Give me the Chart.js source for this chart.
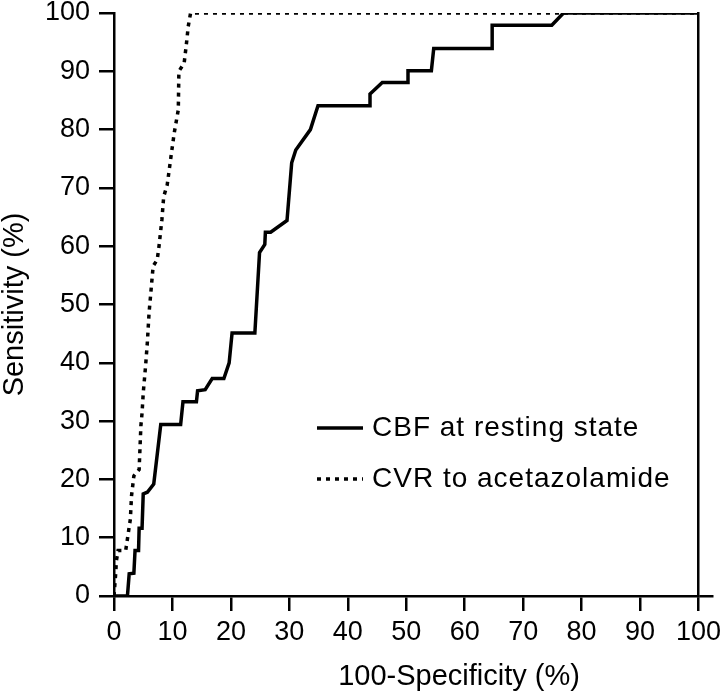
<!DOCTYPE html>
<html>
<head>
<meta charset="utf-8">
<script src="https://cdn.jsdelivr.net/npm/chart.js@4.4.0/dist/chart.umd.min.js"></script>
<style>
  html, body { margin: 0; padding: 0; background: #fff; }
  #chart { display: block; }
</style>
</head>
<body>
<canvas id="chart" width="722" height="696"></canvas>
<script>
// ROC curves (x = 100-specificity, y = sensitivity, both in %)
const seriesNames = ["CBF at resting state", "CVR to acetazolamide"];

const cbfFpr = [0, 2.3, 2.6, 3.4, 3.6, 4.2, 4.3, 4.8, 5.0, 5.7, 6.8, 8.0, 11.4, 11.8, 14.1, 14.3, 15.6, 16.8,
  18.8, 19.7, 20.2, 24.1, 24.9, 25.8, 25.9, 26.8, 29.6, 30.4, 31.1, 33.6, 34.9, 43.8, 43.8, 45.9, 50.3, 50.3,
  54.3, 54.7, 64.7, 64.7, 74.9, 76.9, 100];
const cbfSens = [0, 0, 3.8, 3.9, 7.8, 7.8, 11.6, 11.6, 17.5, 17.8, 19.2, 29.4, 29.4, 33.3, 33.3, 35.2, 35.4, 37.3,
  37.3, 40.0, 45.1, 45.1, 58.9, 60.3, 62.4, 62.4, 64.4, 74.3, 76.5, 80.0, 84.1, 84.1, 86.1, 88.1, 88.1, 90.1,
  90.1, 93.9, 93.9, 97.9, 97.9, 100, 100];

const cvrFpr = [0, 0.3, 0.4, 0.7, 2.0, 2.3, 2.8, 3.0, 3.4, 4.3, 4.6, 4.8, 5.0, 5.4, 5.7, 6.0, 6.3, 6.7, 7.4,
  7.7, 8.2, 8.5, 9.1, 9.9, 10.3, 11.0, 11.1, 12.0, 12.4, 12.7, 13.1, 100];
const cvrSens = [0, 4.0, 6.0, 7.8, 7.8, 9.8, 13.2, 17.2, 20.6, 21.7, 29.2, 31.4, 34.8, 39.4, 43.4, 48.6, 52.0, 56.6, 57.7,
  60.0, 64.6, 68.5, 70.5, 76.5, 79.4, 83.4, 90.0, 91.4, 94.8, 97.7, 100, 100];

const axisMin = 0;
const axisMax = 100;
const axisStep = 10;
const xTitle = "100-Specificity (%)";
const yTitle = "Sensitivity (%)";

const FONT = "'Liberation Sans', Arial, Helvetica, sans-serif";
const toPoints = (xs, ys) => xs.map((x, i) => ({ x, y: ys[i] }));

// legend sits inside the plot, lower right; x title is off-centre in the original
const insideLegend = {
  id: "insideLegend",
  afterDraw(chart, args, opts) {
    const { ctx } = chart;
    ctx.save();
    ctx.fillStyle = "#000";
    ctx.textBaseline = "middle";
    ctx.font = `28px ${FONT}`;
    ctx.letterSpacing = "1px";
    chart.data.datasets.forEach((ds, i) => {
      const y = opts.top + i * opts.rowGap;
      ctx.strokeStyle = ds.borderColor;
      ctx.lineWidth = ds.borderWidth;
      ctx.lineCap = "butt";
      ctx.setLineDash(ds.borderDash || []);
      ctx.beginPath();
      ctx.moveTo(opts.left, y);
      ctx.lineTo(opts.left + opts.sample, y);
      ctx.stroke();
      ctx.setLineDash([]);
      ctx.fillText(ds.label, opts.left + opts.sample + opts.gap, y);
    });
    ctx.letterSpacing = "0px";
    ctx.font = `29px ${FONT}`;
    ctx.textAlign = "center";
    ctx.fillText(xTitle, opts.titleX, opts.titleY);
    ctx.restore();
  }
};

const axisLine = { color: "#000", lineWidth: 2.5, drawOnChartArea: false, drawTicks: true, tickLength: 15 };
const axisBorder = { display: true, color: "#000", width: 2.5 };

// pin the plot box to where it sits in the figure
const noOverflow = (s) => { s.paddingTop = 0; s.paddingBottom = 0; s.paddingLeft = 0; s.paddingRight = 0; };

new Chart(document.getElementById("chart"), {
  type: "line",
  data: {
    datasets: [
      {
        label: seriesNames[0],
        data: toPoints(cbfFpr, cbfSens),
        borderColor: "#000",
        borderWidth: 3.5,
        pointRadius: 0,
        tension: 0,
        borderJoinStyle: "miter",
      },
      {
        label: seriesNames[1],
        data: toPoints(cvrFpr, cvrSens),
        borderColor: "#000",
        borderWidth: 3.5,
        borderDash: [4, 5],
        borderCapStyle: "butt",
        pointRadius: 0,
        tension: 0,
      },
    ],
  },
  options: {
    responsive: false,
    animation: false,
    devicePixelRatio: 1,
    layout: { padding: { top: 13, right: 0, bottom: 0, left: 0 } },
    plugins: {
      legend: { display: false },
      tooltip: { enabled: false },
      insideLegend: { left: 317, sample: 46, gap: 9, top: 428, rowGap: 51, titleX: 459, titleY: 677 },
    },
    scales: {
      x: {
        type: "linear",
        min: axisMin,
        max: axisMax,
        ticks: { stepSize: axisStep, color: "#000", padding: 8, font: { family: FONT, size: 27, lineHeight: 1 } },
        grid: axisLine,
        border: axisBorder,
        title: { display: false, text: xTitle },
        afterFit: (s) => { s.height = 100; noOverflow(s); },
      },
      y: {
        type: "linear",
        min: axisMin,
        max: axisMax,
        ticks: { stepSize: axisStep, color: "#000", padding: 9, font: { family: FONT, size: 27, lineHeight: 1 } },
        grid: axisLine,
        border: axisBorder,
        title: { display: true, text: yTitle, color: "#000", padding: 0, font: { family: FONT, size: 29, lineHeight: 1 } },
        afterFit: (s) => { s.width = 114; noOverflow(s); },
      },
      yr: {
        type: "linear",
        position: "right",
        min: axisMin,
        max: axisMax,
        afterBuildTicks: (s) => { s.ticks = [{ value: axisMin }]; },
        ticks: { display: false },
        grid: axisLine,
        border: axisBorder,
        afterFit: (s) => { s.width = 23.5; noOverflow(s); },
      },
    },
  },
  plugins: [insideLegend],
});
</script>
</body>
</html>
